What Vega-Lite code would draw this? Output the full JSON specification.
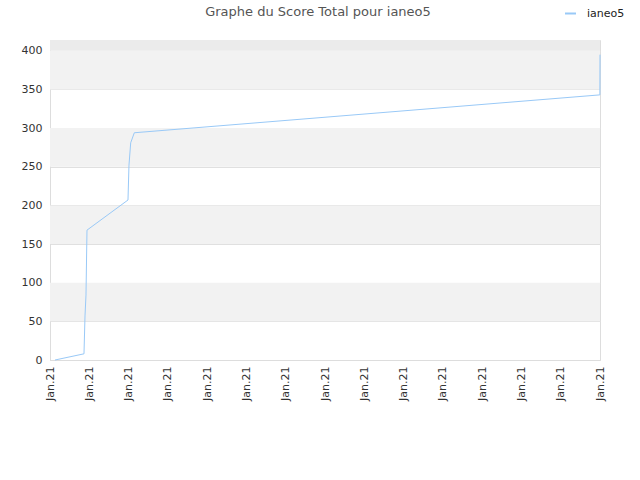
{
  "$schema": "https://vega.github.io/schema/vega-lite/v6.json",
  "width": 550,
  "height": 320,
  "autosize": {"type": "none"},
  "padding": {"left": 50, "top": 40, "right": 40, "bottom": 120},
  "background": "white",
  "title": {
    "text": "Graphe du Score Total pour ianeo5",
    "anchor": "middle",
    "dx": -7,
    "offset": -12,
    "font": "DejaVu Sans",
    "fontSize": 13,
    "fontWeight": "normal",
    "color": "#555555"
  },
  "config": {
    "view": {"stroke": "#dddddd", "strokeWidth": 1},
    "font": "DejaVu Sans",
    "axisY": {
      "title": null,
      "values": [0, 50, 100, 150, 200, 250, 300, 350, 400],
      "labelFontSize": 11,
      "labelColor": "#333333",
      "labelPadding": 8,
      "ticks": false,
      "gridColor": "#e0e0e0",
      "domainColor": "#dddddd"
    }
  },
  "datasets": {
    "bands": [
      {"lo": 50, "hi": 100, "kind": "band"},
      {"lo": 150, "hi": 200, "kind": "band"},
      {"lo": 250, "hi": 300, "kind": "band"},
      {"lo": 350, "hi": 400, "kind": "band"},
      {"lo": 400, "hi": 414, "kind": "top"}
    ],
    "scores": [
      {"date": "2021-01-01T03:03:00", "score": 0, "joueur": "ianeo5"},
      {"date": "2021-01-01T20:46:00", "score": 8, "joueur": "ianeo5"},
      {"date": "2021-01-01T21:23:00", "score": 57, "joueur": "ianeo5"},
      {"date": "2021-01-01T21:59:00", "score": 84, "joueur": "ianeo5"},
      {"date": "2021-01-01T22:36:00", "score": 168, "joueur": "ianeo5"},
      {"date": "2021-01-02T23:39:00", "score": 207, "joueur": "ianeo5"},
      {"date": "2021-01-03T00:15:00", "score": 252, "joueur": "ianeo5"},
      {"date": "2021-01-03T01:18:00", "score": 281, "joueur": "ianeo5"},
      {"date": "2021-01-03T03:30:00", "score": 294, "joueur": "ianeo5"},
      {"date": "2021-01-14T23:55:00", "score": 343, "joueur": "ianeo5"},
      {"date": "2021-01-15T00:00:00", "score": 395, "joueur": "ianeo5"}
    ]
  },
  "layer": [
    {
      "data": {"name": "bands"},
      "mark": {"type": "rect", "strokeWidth": 0},
      "encoding": {
        "y": {"field": "lo", "type": "quantitative", "scale": {"domain": [0, 414], "nice": false}},
        "y2": {"field": "hi"},
        "fill": {
          "field": "kind",
          "type": "nominal",
          "scale": {"domain": ["band", "top"], "range": ["#f2f2f2", "#ebebeb"]},
          "legend": null
        }
      }
    },
    {
      "data": {"name": "scores"},
      "mark": {"type": "line", "strokeWidth": 1, "interpolate": "linear"},
      "encoding": {
        "x": {
          "field": "date",
          "type": "temporal",
          "scale": {"domain": [{"year": 2021, "month": 1, "date": 1}, {"year": 2021, "month": 1, "date": 15}], "nice": false},
          "axis": {
            "title": null,
            "format": "%b.%y",
            "tickCount": {"interval": "day", "step": 1},
            "labelAngle": -90,
            "labelAlign": "right",
            "labelBaseline": "middle",
            "labelFontSize": 11,
            "labelColor": "#333333",
            "labelPadding": 6,
            "ticks": false,
            "grid": false,
            "domainColor": "#dddddd",
            "labelOverlap": false,
            "labelFlush": false
          }
        },
        "y": {
          "field": "score",
          "type": "quantitative",
          "scale": {"domain": [0, 414], "nice": false}
        },
        "color": {
          "field": "joueur",
          "type": "nominal",
          "scale": {"range": ["#99c9f7"]},
          "legend": {
            "title": null,
            "orient": "none",
            "legendX": 514,
            "legendY": -33,
            "symbolType": "stroke",
            "symbolSize": 120,
            "symbolStrokeWidth": 2,
            "labelOffset": 10,
            "labelFontSize": 11,
            "labelColor": "#222222"
          }
        }
      }
    }
  ]
}
